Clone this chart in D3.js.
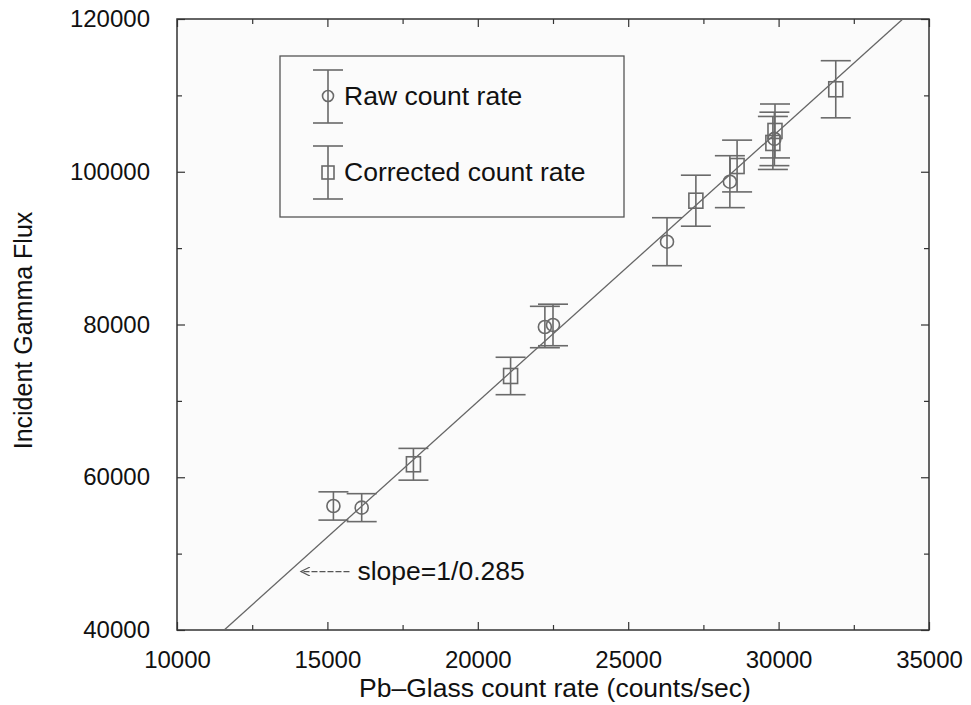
<!DOCTYPE html>
<html>
<head>
<meta charset="utf-8">
<script src="https://cdn.jsdelivr.net/npm/d3@7"></script>
<style>
  body { margin: 0; background: #ffffff; }
  svg { display: block; font-family: "Liberation Sans", Arial, Helvetica, sans-serif; }
</style>
</head>
<body>
<svg id="canvas" width="971" height="705"></svg>
<script>
// raw count rate points (circles)
const rawX = [15200, 16140, 22230, 22500, 26290, 28380, 29860]
const rawY = [56240, 56020, 79670, 79940, 90840, 98700, 104300]
const rawErr = [1850, 1830, 2710, 2720, 3140, 3400, 3500]

// corrected count rate points (squares)
const corrX = [17860, 21090, 27250, 28620, 29810, 29880, 31900]
const corrY = [61700, 73260, 96210, 100750, 103770, 105340, 110800]
const corrErr = [2080, 2450, 3340, 3390, 3470, 3530, 3740]

// fitted line end points
const fitX = [11570, 34130]
const fitY = [40000, 120000]

const xTicks = [10000, 15000, 20000, 25000, 30000, 35000]
const xMinor = [12500, 17500, 22500, 27500, 32500]
const yTicks = [40000, 60000, 80000, 100000, 120000]
const yMinor = [50000, 70000, 90000, 110000]

const legendLabels = ['Raw count rate', 'Corrected count rate']
const slopeLabel = 'slope=1/0.285'
const slopeArrow = [[16000, 47650], [14120, 47650]]

let canvas = d3.select('#canvas')

let plotLeft = 177, plotRight = 929, plotTop = 19, plotBottom = 630

let xScale = d3.scaleLinear().domain([10000, 35000]).range([plotLeft, plotRight])
let yScale = d3.scaleLinear().domain([40000, 120000]).range([plotBottom, plotTop])

let axisColor = '#333'
let markColor = '#6a6a6a'

canvas.append('rect')
      .attr('x', plotLeft)
      .attr('y', plotTop)
      .attr('width', plotRight - plotLeft)
      .attr('height', plotBottom - plotTop)
      .attr('fill', '#fbfbfb')

// axes, ticks pointing inward on all four sides
let drawAxis = (axis, transform, labels) => {
    let g = canvas.append('g')
                  .attr('transform', transform)
                  .call(axis)
    g.select('.domain').remove()
    g.selectAll('line').attr('stroke', axisColor).attr('stroke-width', 1.2)
    g.selectAll('text')
     .attr('fill', '#111')
     .style('font-size', '24px')
    if (!labels) g.selectAll('text').remove()
    return g
}

let xb = drawAxis(d3.axisBottom(xScale).tickValues(xTicks).tickSize(-8).tickPadding(16).tickFormat(d3.format('d')),
         'translate(0,' + plotBottom + ')', true)
xb.selectAll('text').attr('dy', '0.9em')
drawAxis(d3.axisBottom(xScale).tickValues(xMinor).tickSize(-5), 'translate(0,' + plotBottom + ')', false)
drawAxis(d3.axisTop(xScale).tickValues(xTicks).tickSize(-8), 'translate(0,' + plotTop + ')', false)
drawAxis(d3.axisTop(xScale).tickValues(xMinor).tickSize(-5), 'translate(0,' + plotTop + ')', false)

drawAxis(d3.axisLeft(yScale).tickValues(yTicks).tickSize(-8).tickPadding(27).tickFormat(d3.format('d')),
         'translate(' + plotLeft + ',0)', true)
drawAxis(d3.axisLeft(yScale).tickValues(yMinor).tickSize(-5), 'translate(' + plotLeft + ',0)', false)
drawAxis(d3.axisRight(yScale).tickValues(yTicks).tickSize(-8), 'translate(' + plotRight + ',0)', false)
drawAxis(d3.axisRight(yScale).tickValues(yMinor).tickSize(-5), 'translate(' + plotRight + ',0)', false)

canvas.append('rect')
      .attr('x', plotLeft)
      .attr('y', plotTop)
      .attr('width', plotRight - plotLeft)
      .attr('height', plotBottom - plotTop)
      .attr('fill', 'none')
      .attr('stroke', axisColor)
      .attr('stroke-width', 1.5)

// axis titles
canvas.append('text')
      .attr('x', (plotLeft + plotRight) / 2 + 2)
      .attr('y', 697)
      .attr('text-anchor', 'middle')
      .style('font-size', '26.5px')
      .attr('fill', '#111')
      .text('Pb\u2013Glass count rate (counts/sec)')

canvas.append('text')
      .attr('transform', 'translate(32,' + ((plotTop + plotBottom) / 2 + 6) + ') rotate(-90)')
      .attr('text-anchor', 'middle')
      .style('font-size', '25px')
      .attr('fill', '#111')
      .text('Incident Gamma Flux')

// fitted line
let fitData = fitX.map((x, i) => [x, fitY[i]])
canvas.append('path')
      .datum(fitData)
      .attr('d', d3.line().x((d) => xScale(d[0])).y((d) => yScale(d[1])))
      .attr('fill', 'none')
      .attr('stroke', '#666')
      .attr('stroke-width', 1.3)

// error bars
let drawErrorBars = (xs, ys, errs) => {
    let g = canvas.append('g')
    xs.forEach((x, i) => {
        let cx = xScale(x)
        let y0 = yScale(ys[i] - errs[i])
        let y1 = yScale(ys[i] + errs[i])
        g.append('line').attr('x1', cx).attr('x2', cx).attr('y1', y0).attr('y2', y1)
        g.append('line').attr('x1', cx - 15).attr('x2', cx + 15).attr('y1', y0).attr('y2', y0)
        g.append('line').attr('x1', cx - 15).attr('x2', cx + 15).attr('y1', y1).attr('y2', y1)
    })
    g.selectAll('line').attr('stroke', markColor).attr('stroke-width', 1.6)
}

drawErrorBars(rawX, rawY, rawErr)
drawErrorBars(corrX, corrY, corrErr)

canvas.append('g')
      .selectAll('circle')
      .data(rawX)
      .enter()
      .append('circle')
      .attr('cx', (d) => xScale(d))
      .attr('cy', (d, i) => yScale(rawY[i]))
      .attr('r', 6.5)
      .attr('fill', 'none')
      .attr('stroke', markColor)
      .attr('stroke-width', 1.6)

canvas.append('g')
      .selectAll('rect')
      .data(corrX)
      .enter()
      .append('rect')
      .attr('x', (d) => xScale(d) - 7)
      .attr('y', (d, i) => yScale(corrY[i]) - 7.5)
      .attr('width', 14)
      .attr('height', 15)
      .attr('fill', 'none')
      .attr('stroke', markColor)
      .attr('stroke-width', 1.6)

// slope annotation
canvas.append('defs')
      .append('marker')
      .attr('id', 'arrow')
      .attr('viewBox', '0 0 10 10')
      .attr('refX', 10)
      .attr('refY', 5)
      .attr('markerWidth', 12)
      .attr('markerHeight', 9)
      .attr('markerUnits', 'userSpaceOnUse')
      .attr('orient', 'auto')
      .append('path')
      .attr('d', 'M0,0 L10,5 L0,10')
      .attr('fill', 'none')
      .attr('stroke', '#555')
      .attr('stroke-width', 1.3)

canvas.append('line')
      .attr('x1', xScale(slopeArrow[0][0]) - 8)
      .attr('y1', yScale(slopeArrow[0][1]))
      .attr('x2', xScale(slopeArrow[1][0]))
      .attr('y2', yScale(slopeArrow[1][1]))
      .attr('stroke', '#555')
      .attr('stroke-width', 1.2)
      .attr('stroke-dasharray', '6,2')
      .attr('marker-end', 'url(#arrow)')

canvas.append('text')
      .attr('x', xScale(slopeArrow[0][0]))
      .attr('y', yScale(slopeArrow[0][1]) + 8)
      .style('font-size', '26.5px')
      .attr('fill', '#111')
      .text(slopeLabel)

// legend
let legend = canvas.append('g')
legend.append('rect')
      .attr('x', 280)
      .attr('y', 56)
      .attr('width', 344)
      .attr('height', 161)
      .attr('fill', '#fbfbfb')
      .attr('stroke', '#555')
      .attr('stroke-width', 1.3)

legendLabels.forEach((label, i) => {
    let cy = 96 + i * 76
    let cx = 328
    let g = legend.append('g')
    g.append('line').attr('x1', cx).attr('x2', cx).attr('y1', cy - 26).attr('y2', cy + 27)
    g.append('line').attr('x1', cx - 15).attr('x2', cx + 15).attr('y1', cy - 26).attr('y2', cy - 26)
    g.append('line').attr('x1', cx - 15).attr('x2', cx + 15).attr('y1', cy + 27).attr('y2', cy + 27)
    if (i === 0) {
        g.append('circle').attr('cx', cx).attr('cy', cy).attr('r', 5.5)
    } else {
        g.append('rect').attr('x', cx - 6).attr('y', cy - 6).attr('width', 12).attr('height', 13)
    }
    g.selectAll('line, circle, rect')
     .attr('fill', 'none')
     .attr('stroke', markColor)
     .attr('stroke-width', 1.6)
    g.append('text')
     .attr('x', cx + 16)
     .attr('y', cy + 9)
     .style('font-size', '26.5px')
     .attr('fill', '#111')
     .text(label)
})
</script>
</body>
</html>
